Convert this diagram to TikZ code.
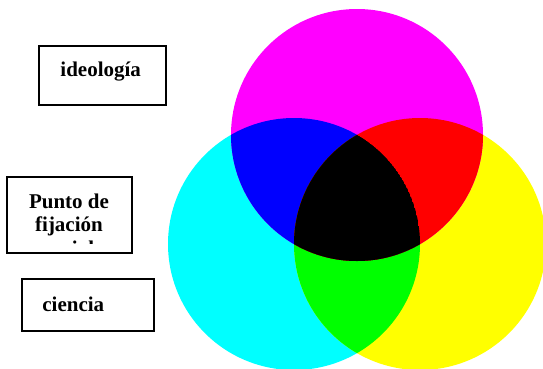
\documentclass[tikz,border=0pt]{standalone}
\usepackage{fontspec}
\setmainfont{Liberation Serif}
\usetikzlibrary{calc}
\definecolor{cCyan}{HTML}{00FFFF}
\definecolor{cMag}{HTML}{FF00FF}
\definecolor{cYel}{HTML}{FFFF00}
\definecolor{cBlue}{HTML}{0000FF}
\definecolor{cRed}{HTML}{FF0000}
\definecolor{cGreen}{HTML}{00FF00}

\begin{document}
\begin{tikzpicture}[x=1pt,y=1pt,
  box/.style={draw=black,line width=1.3pt,inner sep=0pt},
  lbl/.style={font=\fontsize{21}{23.4}\selectfont\bfseries,align=center,inner sep=0pt,anchor=base}]
\def\r{126}
\useasboundingbox (0,0) rectangle (543,368);
% circle centres
\coordinate (cM) at (357,233);
\coordinate (cC) at (294,124);
\coordinate (cY) at (420,124);
\fill[cCyan] (cC) circle (\r);
\fill[cYel] (cY) circle (\r);
\fill[cMag] (cM) circle (\r);
% overlaps
\begin{scope}
  \clip (cC) circle (\r);
  \fill[cBlue] (cM) circle (\r);
  \fill[cGreen] (cY) circle (\r);
  \clip (cM) circle (\r);
  \fill[black] (cY) circle (\r);
\end{scope}
\begin{scope}
  \clip (cM) circle (\r);
  \clip (cY) circle (\r);
  \fill[cRed] (cY) circle (\r);
  \clip (cC) circle (\r);
  \fill[black] (cC) circle (\r);
\end{scope}
% text boxes
\node[box,minimum width=127,minimum height=59] (ideo) at (102.5,292.5) {};
\node[lbl] (ideoT) at (100.7,291.3) {ideología};
\node[box,minimum width=125,minimum height=76] (punto) at (69.5,153) {};
\begin{scope}
  \clip ($(punto.north west)+(1,-1)$) rectangle (131,124.5);
  \node[lbl] (puntoT) at (69,112.9) {Punto de\\ fijación\\ social};
\end{scope}
\node[box,minimum width=132,minimum height=52] (cien) at (88,63) {};
\node[lbl] (cienT) at (73.3,57) {ciencia};
\end{tikzpicture}
\end{document}
